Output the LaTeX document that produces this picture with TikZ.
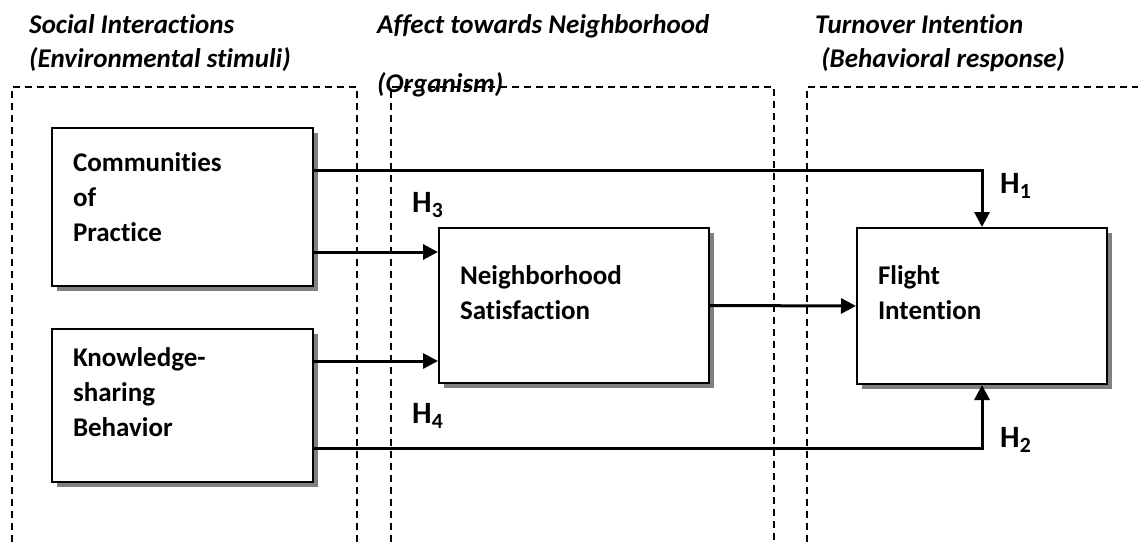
\documentclass[tikz,border=0pt]{standalone}
\usepackage{fontspec}
\setmainfont{Carlito}[Ligatures=NoCommon]
\usetikzlibrary{arrows.meta,shadows}

\tikzstyle{block}=[rectangle, draw, line width=2pt, fill=white, inner xsep=21pt, align=left,
  drop shadow={shadow xshift=5pt, shadow yshift=-5pt, fill=black!50, opacity=1},
  font=\fontsize{27}{35}\selectfont\bfseries]
\tikzstyle{head}=[inner sep=0pt, anchor=base west, align=left, font=\fontsize{27}{34}\selectfont\bfseries\itshape]
\tikzstyle{zone}=[line width=1.2pt, dash pattern=on 7pt off 5pt]
\tikzstyle{path}=[line width=3pt, -{Triangle[length=15pt,width=15pt]}]
\tikzstyle{hyp}=[inner sep=0pt, anchor=base west, font=\fontsize{31}{34}\selectfont\bfseries]

\begin{document}
\begin{tikzpicture}[x=1pt,y=-1pt]
\useasboundingbox (0,0) rectangle (1138,542);

\draw[zone] (12,542) -- (12,87) -- (357,87) -- (357,542);
\draw[zone] (391,542) -- (391,87) -- (774,87) -- (774,542);
\draw[zone] (807,542) -- (807,87) -- (1138,87);

\node[head] (stim) at (29,67) {Social Interactions\\(Environmental stimuli)};
\node[head] (org) at (377,92) {Affect towards Neighborhood\\[25pt](Organism)};
\node[head] (resp) at (815,67) {Turnover Intention\\\ (Behavioral response)};

\node[block, minimum width=261pt, minimum height=158pt, text width=219pt, text depth=90pt] (cop) at (182.5,207) {Communities\\of\\Practice};
\node[block, minimum width=261pt, minimum height=153pt, text width=219pt, text depth=96pt] (ksb) at (182.5,405.5) {Knowledge-\\sharing\\Behavior};
\node[block, minimum width=270pt, minimum height=155pt, text width=228pt, text depth=61pt] (ns) at (574,305.5) {Neighborhood\\Satisfaction};
\node[block, minimum width=250pt, minimum height=156pt, text width=208pt, text depth=61pt] (fi) at (982,306) {Flight\\Intention};

\draw[path] (cop.east |- 0,170) -- (fi.north |- 0,170) -- (fi.north);
\draw[path] (cop.east |- 0,252) -- (ns.west |- 0,252);
\draw[path] (ksb.east |- 0,361) -- (ns.west |- 0,361);
\draw[path] (ksb.east |- 0,448) -- (fi.south |- 0,448) -- (fi.south);
\draw[path] (ns.east) -- (fi.west);

\node[hyp] (h1) at (1000,193) {H\textsubscript{1}};
\node[hyp] (h2) at (1000,447) {H\textsubscript{2}};
\node[hyp] (h3) at (412,212) {H\textsubscript{3}};
\node[hyp] (h4) at (412,423) {H\textsubscript{4}};
\end{tikzpicture}
\end{document}
